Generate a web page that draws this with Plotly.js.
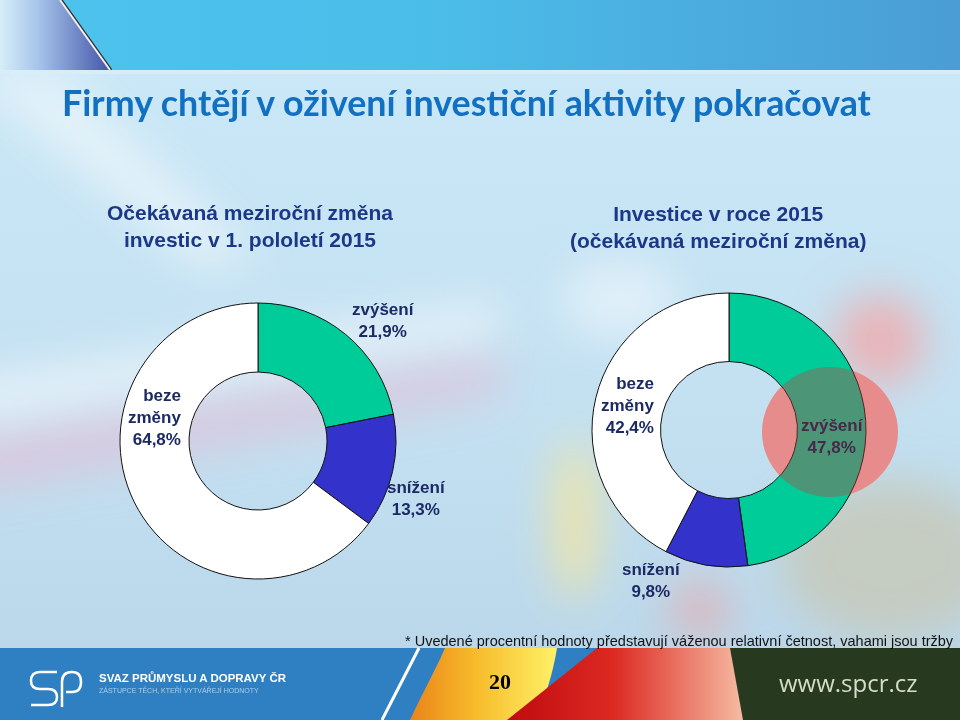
<!DOCTYPE html>
<html>
<head>
<meta charset="utf-8">
<script src="https://cdn.plot.ly/plotly-3.0.1.min.js"></script>
<style>
html,body{margin:0;padding:0;width:960px;height:720px;overflow:hidden;}
#bg{position:absolute;left:0;top:0;}
#chart{position:absolute;left:0;top:0;width:960px;height:720px;}
</style>
</head>
<body>
<svg id="bg" width="960" height="720" xmlns="http://www.w3.org/2000/svg">
<defs>
 <linearGradient id="gMain" x1="0" y1="0" x2="0" y2="1">
   <stop offset="0" stop-color="#cbe9f8"/><stop offset="0.6" stop-color="#c3e0f1"/><stop offset="1" stop-color="#b8d5e9"/>
 </linearGradient>
 <linearGradient id="gTop" x1="0" y1="0" x2="1" y2="0">
   <stop offset="0" stop-color="#4cc3ee"/><stop offset="0.45" stop-color="#4bbde9"/><stop offset="1" stop-color="#4a9dd5"/>
 </linearGradient>
 <linearGradient id="gCorner" x1="0" y1="0" x2="1" y2="0">
   <stop offset="0" stop-color="#d6eef8"/><stop offset="0.35" stop-color="#a6c4ea"/><stop offset="1" stop-color="#4456aa"/>
 </linearGradient>
 <linearGradient id="gYellow" x1="0" y1="0" x2="1" y2="0">
   <stop offset="0" stop-color="#ea8418"/><stop offset="0.45" stop-color="#f7bc2c"/><stop offset="1" stop-color="#fff168"/>
 </linearGradient>
 <linearGradient id="gRed" x1="0" y1="0" x2="1" y2="0">
   <stop offset="0" stop-color="#c00a10"/><stop offset="0.45" stop-color="#dc2a22"/><stop offset="1" stop-color="#f6bca4"/>
 </linearGradient>
 <filter id="blur" x="-50%" y="-50%" width="200%" height="200%"><feGaussianBlur stdDeviation="22"/></filter>
</defs>
<rect width="960" height="720" fill="url(#gMain)"/>
<g filter="url(#blur)">
  <polygon points="-40,380 500,300 500,335 -40,425" fill="#eef6fb" opacity="0.8"/>
  <polygon points="-40,440 500,355 500,395 -40,495" fill="#dcc4da" opacity="0.85"/>
  <polygon points="-40,70 60,70 260,260 200,270" fill="#eef6fb" opacity="0.7"/>
  <ellipse cx="575" cy="520" rx="22" ry="80" fill="#f3e6a0" opacity="0.9"/>
  <ellipse cx="880" cy="340" rx="45" ry="45" fill="#f2a8a8" opacity="0.8"/>
  <ellipse cx="890" cy="560" rx="110" ry="80" fill="#c5cabd" opacity="0.9"/>
  <ellipse cx="700" cy="610" rx="30" ry="30" fill="#e8a8a8" opacity="0.7"/>
  <ellipse cx="620" cy="300" rx="60" ry="40" fill="#e6f3fa" opacity="0.8"/>
</g>
<rect x="0" y="0" width="960" height="70" fill="url(#gTop)"/>
<polygon points="0,0 60,0 110,70 0,70" fill="url(#gCorner)"/>
<line x1="61" y1="0" x2="111" y2="70" stroke="#333" stroke-width="3"/>
<line x1="60" y1="0" x2="110" y2="70" stroke="#f2f2f2" stroke-width="2"/>
<rect x="0" y="70" width="960" height="4" fill="#d9eef8" opacity="0.8"/>
<rect x="0" y="648" width="960" height="72" fill="#2f80c2"/>
<path d="M445,648 L557,648 C553,672 546,700 532,720 L410,720 C424,690 438,665 445,648 Z" fill="url(#gYellow)"/>
<polygon points="597,648 732,648 744,720 507,720" fill="url(#gRed)"/>
<polygon points="730,648 960,648 960,720 743,720" fill="#27391f"/>
<line x1="419" y1="648" x2="382" y2="720" stroke="#ffffff" stroke-width="3"/>
<path d="M57,672 L40,672 Q31,672 31,681 Q31,689 40,689 L48,689 Q57,689 57,697 Q57,705 48,705 L31,705" fill="none" stroke="#ffffff" stroke-width="2.5"/>
<path d="M62,707 L62,682 Q62,672 72,672 Q81,672 81,682 Q81,692 72,692 L66,692" fill="none" stroke="#ffffff" stroke-width="2.5"/>
</svg>
<div id="chart"></div>
<script>
// ---- data ----
const categories = ['zvýšení', 'snížení', 'beze změny'];
const labelLines = ['zvýšení', 'snížení', 'beze<br>změny'];
const values1 = [21.9, 13.3, 64.8];
const values2 = [47.8, 9.8, 42.4];
const sliceColors = ['#00cc99', '#3333cc', '#ffffff'];
const subtitle1 = 'Očekávaná meziroční změna<br>investic v 1. pololetí 2015';
const subtitle2 = 'Investice v roce 2015<br>(očekávaná meziroční změna)';
const mainTitle = 'Firmy chtějí v oživení investiční aktivity pokračovat';
const footnote = '* Uvedené procentní hodnoty představují váženou relativní četnost, vahami jsou tržby';

const W = 960, H = 720;
const px = x => x / W;
const py = y => 1 - y / H;
const fmt = v => v.toFixed(1).replace('.', ',') + '%';
const sans = '"Liberation Sans", Arial, sans-serif';
const navy = '#1b2a63';

function pie(values, dom) {
  return {
    type: 'pie', values: values, labels: categories, sort: false,
    direction: 'clockwise', rotation: 0, hole: 0.5,
    marker: {colors: sliceColors, line: {color: '#111111', width: 1}},
    textinfo: 'none', hoverinfo: 'label+percent', showlegend: false,
    domain: dom
  };
}

const data = [
  pie(values1, {x: [px(120), px(396)], y: [py(579), py(303)]}),
  pie(values2, {x: [px(592), px(866)], y: [py(567), py(293)]})
];

// label positions (px) for each category: [x, y, xanchor]
const pos1 = [[383, 320, 'center'], [416, 498, 'center'], [183, 417, 'right']];
const pos2 = [[832, 437, 'center'], [651, 580, 'center'], [656, 405, 'right']];

const ann = [];
function addLabels(values, pos, colors) {
  values.forEach((v, i) => {
    ann.push({
      xref: 'paper', yref: 'paper', x: px(pos[i][0]), y: py(pos[i][1]),
      xanchor: pos[i][2], yanchor: 'middle', align: pos[i][2] === 'right' ? 'right' : 'center',
      showarrow: false, text: labelLines[i] + '<br>' + fmt(v),
      font: {family: sans, size: 17, weight: 'bold', color: colors ? colors[i] : navy}
    });
  });
}
addLabels(values1, pos1);
addLabels(values2, pos2, ['#47284a', navy, navy]);

ann.push({xref: 'paper', yref: 'paper', x: px(250), y: py(226), xanchor: 'center', yanchor: 'middle',
  showarrow: false, text: subtitle1, align: 'center',
  font: {family: sans, size: 21, weight: 'bold', color: '#1c3788'}});
ann.push({xref: 'paper', yref: 'paper', x: px(718), y: py(227), xanchor: 'center', yanchor: 'middle',
  showarrow: false, text: subtitle2, align: 'center',
  font: {family: sans, size: 21, weight: 'bold', color: '#1c3788'}});
ann.push({xref: 'paper', yref: 'paper', x: px(956), y: py(641), xanchor: 'right', yanchor: 'middle',
  showarrow: false, text: footnote,
  font: {family: sans, size: 14.5, color: '#111111'}});
ann.push({xref: 'paper', yref: 'paper', x: px(97), y: py(677), xanchor: 'left', yanchor: 'middle',
  showarrow: false, text: 'SVAZ PRŮMYSLU A DOPRAVY ČR',
  font: {family: sans, size: 11.5, weight: 'bold', color: '#ffffff'}});
ann.push({xref: 'paper', yref: 'paper', x: px(97), y: py(690), xanchor: 'left', yanchor: 'middle',
  showarrow: false, text: 'ZÁSTUPCE TĚCH, KTEŘÍ VYTVÁŘEJÍ HODNOTY',
  font: {family: sans, size: 7, color: '#a9cdea'}});
ann.push({xref: 'paper', yref: 'paper', x: px(500), y: py(681), xanchor: 'center', yanchor: 'middle',
  showarrow: false, text: '20',
  font: {family: '"Liberation Serif", "Times New Roman", serif', size: 22, weight: 'bold', color: '#000000'}});
ann.push({xref: 'paper', yref: 'paper', x: px(848), y: py(682), xanchor: 'center', yanchor: 'middle',
  showarrow: false, text: 'www.spcr.cz',
  font: {family: '"Open Sans", sans-serif', size: 24, color: '#d5dccb'}});

const hl = {x0: px(762), x1: px(898), y0: py(497), y1: py(367)};
const layout = {
  width: W, height: H,
  margin: {l: 0, r: 0, t: 0, b: 0},
  paper_bgcolor: 'rgba(0,0,0,0)', plot_bgcolor: 'rgba(0,0,0,0)',
  title: {text: mainTitle, x: px(62), xanchor: 'left', xref: 'paper', y: py(103), yanchor: 'middle',
    font: {family: 'Lato, "Open Sans", sans-serif', size: 35.8, weight: 'bold', color: '#1170c2'}},
  showlegend: false,
  annotations: ann,
  shapes: [
    Object.assign({type: 'circle', xref: 'paper', yref: 'paper', layer: 'below',
      fillcolor: 'rgba(255,185,185,0.92)', line: {width: 0}}, hl),
    Object.assign({type: 'circle', xref: 'paper', yref: 'paper', layer: 'above',
      fillcolor: 'rgba(200,60,60,0.38)', line: {width: 0}}, hl)
  ]
};

Plotly.newPlot('chart', data, layout, {displayModeBar: false, staticPlot: true});
</script>
</body>
</html>
